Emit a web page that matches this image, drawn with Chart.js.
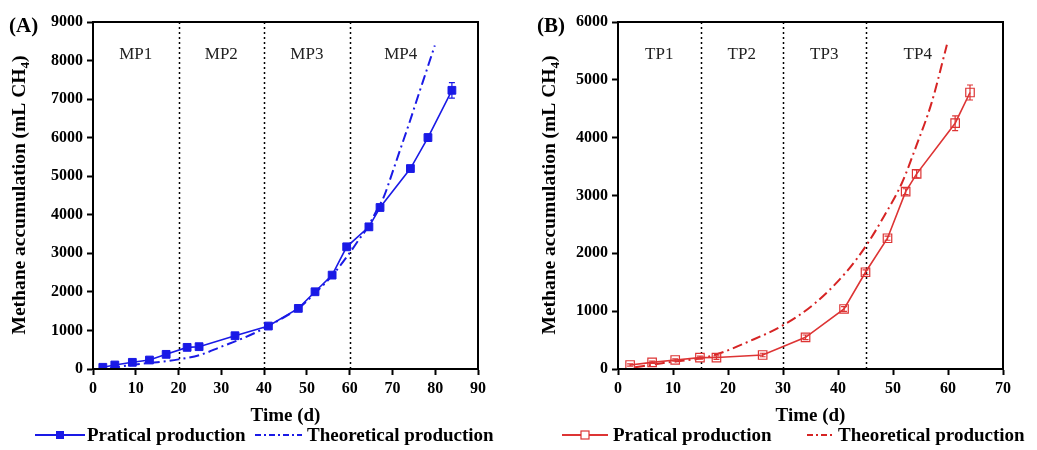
<!DOCTYPE html>
<html>
<head>
<meta charset="utf-8">
<title>Methane accumulation</title>
<script src="https://cdn.jsdelivr.net/npm/chart.js@4.4.1/dist/chart.umd.min.js"></script>
<style>
  html, body { margin: 0; padding: 0; background: #fff; }
  #wrap { position: relative; width: 1037px; height: 450px; }
  #wrap canvas { position: absolute; top: 0; }
  #chartA { left: 0; }
  #chartB { left: 520px; }
</style>
</head>
<body>
<div id="wrap">
  <canvas id="chartA" width="520" height="450"></canvas>
  <canvas id="chartB" width="517" height="450"></canvas>
</div>
<script>
// ---- (A) MP run ----
const mpDays = [2.3, 5.1, 9.2, 13.2, 17.1, 22.0, 24.8, 33.2, 41.0, 48.0, 51.9, 55.9, 59.3, 64.5, 67.1, 74.2, 78.3, 83.9];
const mpPractical = [44, 104, 173, 233, 380, 561, 579, 863, 1114, 1572, 2003, 2435, 3169, 3687, 4189, 5199, 6002, 7228];
const mpError = [20, 20, 25, 25, 30, 30, 30, 40, 40, 40, 40, 60, 50, 80, 50, 70, 90, 200];
const mpTheoDays = [4, 10, 15, 20, 25, 30, 35, 40, 44, 48, 52, 56, 60, 62, 64.3, 66, 68, 70, 72, 74, 76, 78, 79.9];
const mpTheoretical = [18, 120, 175, 250, 362, 580, 795, 1054, 1300, 1570, 1980, 2435, 3010, 3330, 3690, 4050, 4470, 5100, 5750, 6400, 7080, 7750, 8390];
const mpPhases = ['MP1', 'MP2', 'MP3', 'MP4'];
const mpPhaseBounds = [20, 40, 60];
const mpXTicks = [0, 10, 20, 30, 40, 50, 60, 70, 80, 90];
const mpYTicks = [0, 1000, 2000, 3000, 4000, 5000, 6000, 7000, 8000, 9000];

// ---- (B) TP run ----
const tpDays = [2.2, 6.2, 10.4, 14.9, 17.9, 26.3, 34.1, 41.1, 45.0, 49.0, 52.3, 54.3, 61.3, 64.0];
const tpPractical = [69, 115, 156, 196, 198, 242, 548, 1038, 1673, 2261, 3067, 3374, 4250, 4781];
const tpError = [20, 20, 20, 25, 30, 30, 40, 40, 40, 35, 50, 70, 127, 130];
const tpTheoDays = [3.1, 8, 14.9, 17.6, 23.7, 30.1, 35.8, 41.3, 45.2, 48.5, 51.6, 54.3, 57.0, 59.8];
const tpTheoretical = [29, 100, 185, 242, 473, 761, 1136, 1655, 2145, 2664, 3212, 3875, 4597, 5605];
const tpPhases = ['TP1', 'TP2', 'TP3', 'TP4'];
const tpPhaseBounds = [15, 30, 45];
const tpXTicks = [0, 10, 20, 30, 40, 50, 60, 70];
const tpYTicks = [0, 1000, 2000, 3000, 4000, 5000, 6000];

const SERIF = '"Liberation Serif", "Times New Roman", serif';
const BOLD19 = 'bold 19px ' + SERIF;

function toPoints(xs, ys) {
  return xs.map((x, i) => ({ x: x, y: ys[i] }));
}

// draws the phase dividers, error bars, frame, panel letter, y title and legend
function panelPlugin(p) {
  return {
    id: 'panelDecor',
    beforeDatasetsDraw(chart) {
      const { ctx, chartArea: a, scales: { x } } = chart;
      ctx.save();
      ctx.strokeStyle = '#000';
      ctx.lineWidth = 1.5;
      ctx.setLineDash([2, 3]);
      p.bounds.forEach(b => {
        const px = Math.round(x.getPixelForValue(b)) + 0.5;
        ctx.beginPath();
        ctx.moveTo(px, a.top);
        ctx.lineTo(px, a.bottom);
        ctx.stroke();
      });
      ctx.setLineDash([]);
      // phase names centred in each interval
      const edges = [x.min].concat(p.bounds, [p.days[p.days.length - 1]]);
      ctx.fillStyle = '#222';
      ctx.font = '17px ' + SERIF;
      ctx.textAlign = 'center';
      ctx.textBaseline = 'alphabetic';
      p.phases.forEach((name, i) => {
        const mid = (edges[i] + edges[i + 1]) / 2;
        ctx.fillText(name, x.getPixelForValue(mid), 59);
      });
      ctx.restore();
    },
    afterDatasetsDraw(chart) {
      const { ctx, scales: { x, y } } = chart;
      ctx.save();
      ctx.strokeStyle = p.color;
      ctx.lineWidth = 1.2;
      p.days.forEach((d, i) => {
        const px = x.getPixelForValue(d);
        const y1 = y.getPixelForValue(p.values[i] + p.errors[i]);
        const y2 = y.getPixelForValue(p.values[i] - p.errors[i]);
        ctx.beginPath();
        ctx.moveTo(px, y1); ctx.lineTo(px, y2);
        ctx.moveTo(px - 3, y1); ctx.lineTo(px + 3, y1);
        ctx.moveTo(px - 3, y2); ctx.lineTo(px + 3, y2);
        ctx.stroke();
      });
      ctx.restore();
    },
    afterDraw(chart) {
      const { ctx, chartArea: a } = chart;
      ctx.save();
      ctx.strokeStyle = '#000';
      ctx.lineWidth = 2;
      ctx.strokeRect(a.left, a.top, a.right - a.left, a.bottom - a.top);

      ctx.fillStyle = '#000';
      ctx.font = 'bold 21px ' + SERIF;
      ctx.textAlign = 'left';
      ctx.textBaseline = 'alphabetic';
      ctx.fillText(p.letter, p.letterX, 32);

      // rotated y title with subscript 4
      ctx.translate(p.titleX, 195);
      ctx.rotate(-Math.PI / 2);
      const main = 'Methane accumulation (mL CH';
      const titleFont = 'bold 19.5px ' + SERIF;
      ctx.font = titleFont;
      const w1 = ctx.measureText(main).width;
      const w3 = ctx.measureText(')').width;
      ctx.font = 'bold 13px ' + SERIF;
      const w2 = ctx.measureText('4').width;
      let tx = -(w1 + w2 + w3) / 2;
      ctx.font = titleFont;
      ctx.fillText(main, tx, 0);
      tx += w1;
      ctx.font = 'bold 13px ' + SERIF;
      ctx.fillText('4', tx, 4);
      tx += w2;
      ctx.font = titleFont;
      ctx.fillText(')', tx, 0);
      ctx.restore();

      // legend
      const ly = 435;
      const L = p.legend;
      ctx.save();
      ctx.strokeStyle = p.color;
      ctx.lineWidth = 2;
      ctx.beginPath();
      ctx.moveTo(L.line1[0], ly); ctx.lineTo(L.line1[1], ly);
      ctx.stroke();
      const mx = (L.line1[0] + L.line1[1]) / 2;
      if (p.hollow) {
        ctx.fillStyle = '#fff';
        ctx.lineWidth = 1.2;
        ctx.fillRect(mx - 4, ly - 4, 8, 8);
        ctx.strokeRect(mx - 4, ly - 4, 8, 8);
      } else {
        ctx.fillStyle = p.color;
        ctx.fillRect(mx - 4, ly - 4, 8, 8);
      }
      ctx.strokeStyle = p.theoColor;
      ctx.lineWidth = 2;
      ctx.setLineDash([6, 3, 2, 3]);
      ctx.beginPath();
      ctx.moveTo(L.line2[0], ly); ctx.lineTo(L.line2[1], ly);
      ctx.stroke();
      ctx.setLineDash([]);
      ctx.fillStyle = '#000';
      ctx.font = BOLD19;
      ctx.textAlign = 'left';
      ctx.textBaseline = 'alphabetic';
      ctx.fillText('Pratical production', L.text1, 441);
      ctx.fillText('Theoretical production', L.text2, 441);
      ctx.restore();
    }
  };
}

function makeChart(id, p) {
  const tickFont = { family: SERIF, size: 16, weight: 'bold' };
  const axisGrid = {
    display: true, drawOnChartArea: false, drawTicks: true,
    tickLength: 6, tickColor: '#000', tickWidth: 2
  };
  const plain = v => String(v);
  return new Chart(document.getElementById(id), {
    type: 'line',
    data: {
      datasets: [{
        label: 'Pratical production',
        data: toPoints(p.days, p.values),
        borderColor: p.color,
        backgroundColor: p.hollow ? 'rgba(255,255,255,0)' : p.color,
        borderWidth: 1.6,
        pointStyle: 'rect',
        pointRadius: p.hollow ? 6 : 5.5,
        pointBorderWidth: p.hollow ? 1.2 : 1,
        tension: 0
      }, {
        label: 'Theoretical production',
        data: toPoints(p.theoDays, p.theo),
        borderColor: p.theoColor,
        borderWidth: 2,
        borderDash: [10, 4, 2, 4],
        pointRadius: 0,
        cubicInterpolationMode: 'monotone'
      }]
    },
    options: {
      responsive: false,
      animation: false,
      layout: { padding: { top: 22, right: p.padRight, bottom: 0, left: 0 } },
      plugins: { legend: { display: false }, tooltip: { enabled: false } },
      scales: {
        x: {
          type: 'linear',
          min: p.xTicks[0],
          max: p.xTicks[p.xTicks.length - 1],
          border: { color: '#000', width: 2 },
          grid: axisGrid,
          ticks: { font: tickFont, color: '#000', padding: 4, maxRotation: 0, autoSkip: false, callback: plain },
          afterBuildTicks: s => { s.ticks = p.xTicks.map(v => ({ value: v })); },
          afterFit: s => { s.height = 81; },
          title: {
            display: true, text: 'Time (d)', color: '#000',
            font: { family: SERIF, size: 19, weight: 'bold' },
            padding: { top: 0, bottom: 23 }
          }
        },
        y: {
          type: 'linear',
          min: p.yTicks[0],
          max: p.yTicks[p.yTicks.length - 1],
          border: { color: '#000', width: 2 },
          grid: axisGrid,
          ticks: { font: tickFont, color: '#000', padding: 4, callback: plain },
          afterBuildTicks: s => { s.ticks = p.yTicks.map(v => ({ value: v })); },
          afterFit: s => { s.width = p.axisLeft; }
        }
      }
    },
    plugins: [panelPlugin(p)]
  });
}

makeChart('chartA', {
  letter: '(A)', letterX: 9, titleX: 25, axisLeft: 93, padRight: 42,
  days: mpDays, values: mpPractical, errors: mpError,
  theoDays: mpTheoDays, theo: mpTheoretical,
  phases: mpPhases, bounds: mpPhaseBounds,
  xTicks: mpXTicks, yTicks: mpYTicks,
  color: '#1a1ae6', theoColor: '#1a1ae6', hollow: false,
  legend: { line1: [35, 85], text1: 87, line2: [255, 302], text2: 307 }
});

makeChart('chartB', {
  letter: '(B)', letterX: 17, titleX: 35, axisLeft: 98, padRight: 34,
  days: tpDays, values: tpPractical, errors: tpError,
  theoDays: tpTheoDays, theo: tpTheoretical,
  phases: tpPhases, bounds: tpPhaseBounds,
  xTicks: tpXTicks, yTicks: tpYTicks,
  color: '#dd3434', theoColor: '#d62424', hollow: true,
  legend: { line1: [42, 88], text1: 93, line2: [287, 313], text2: 318 }
});
</script>
</body>
</html>
